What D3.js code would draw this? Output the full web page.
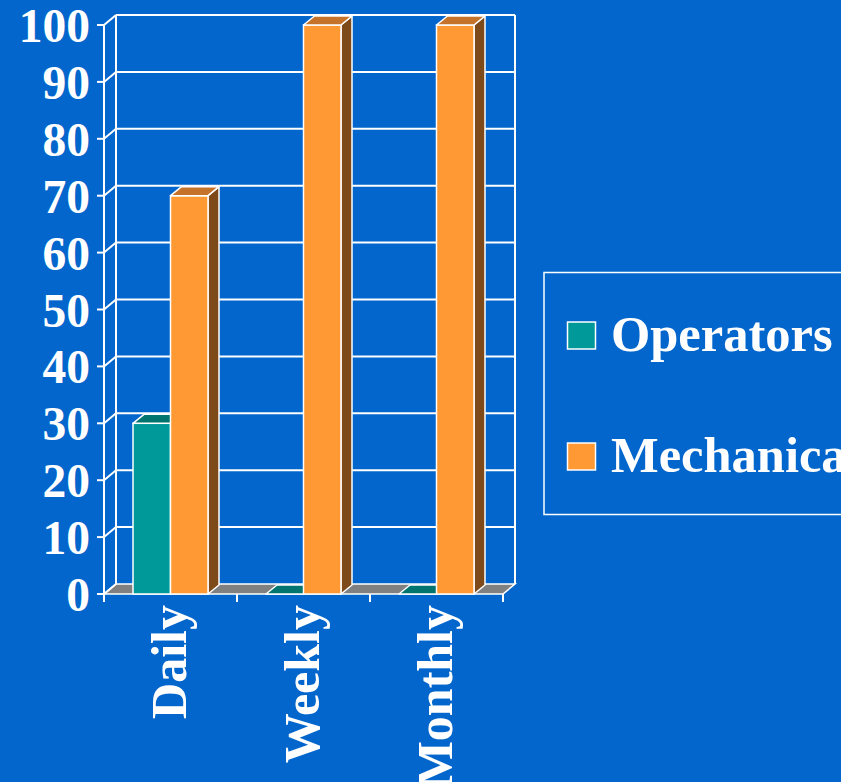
<!DOCTYPE html>
<html>
<head>
<meta charset="utf-8">
<script src="https://cdn.jsdelivr.net/npm/d3@7"></script>
<style>
  html, body { margin: 0; padding: 0; background: #0366CC; overflow: hidden; }
  svg { display: block; }
  text { font-family: "Liberation Serif", "Times New Roman", serif; font-weight: bold; fill: #fff; }
</style>
</head>
<body>
<svg id="chart" width="841" height="782"></svg>
<script>
const categories = ["Daily", "Weekly", "Monthly"];
const series = ["Operators", "Mechanical"];
const operators = [30, 0, 0];
const mechanical = [70, 100, 100];
const yTicks = [0, 10, 20, 30, 40, 50, 60, 70, 80, 90, 100];

const colors = {
  Operators: { front: "#009999", top: "#007570", side: "#004f4f" },
  Mechanical: { front: "#FF9933", top: "#C5732A", side: "#7E4A1A" }
};
const values = { Operators: operators, Mechanical: mechanical };

const svg = d3.select("#chart");
svg.append("rect").attr("width", 841).attr("height", 782).attr("fill", "#0366CC");

// geometry
const DX = 12, DY = -10;      // wall depth offset
const BDX = 11, BDY = -9;     // bar depth offset
const y = d3.scaleLinear().domain([0, 100]).range([594, 25]);
const x = d3.scaleBand().domain(categories).range([104, 503]).padding(0);
const xs = d3.scaleBand().domain(series).range([0, 75]).padding(0);
const x0 = x(categories[0]), x1 = x.range()[1];
const white = "#ffffff";

// floor
svg.append("polygon")
  .attr("points", [[x0, y(0)], [x1, y(0)], [x1 + DX, y(0) + DY], [x0 + DX, y(0) + DY]].join(" "))
  .attr("fill", "#808080").attr("stroke", white).attr("stroke-width", 1.5);

// back wall gridlines
svg.append("g").selectAll("line").data(yTicks.filter(d => d > 0)).join("line")
  .attr("x1", x0 + DX).attr("x2", x1 + DX)
  .attr("y1", d => y(d) + DY).attr("y2", d => y(d) + DY)
  .attr("stroke", white).attr("stroke-width", 2);
// back wall right edge
svg.append("line").attr("x1", x1 + DX).attr("x2", x1 + DX)
  .attr("y1", y(100) + DY).attr("y2", y(0) + DY).attr("stroke", white).attr("stroke-width", 2);
// left wall back edge
svg.append("line").attr("x1", x0 + DX).attr("x2", x0 + DX)
  .attr("y1", y(100) + DY).attr("y2", y(0) + DY).attr("stroke", white).attr("stroke-width", 2);
// left wall diagonals
svg.append("g").selectAll("line").data(yTicks).join("line")
  .attr("x1", x0).attr("x2", x0 + DX)
  .attr("y1", d => y(d)).attr("y2", d => y(d) + DY)
  .attr("stroke", white).attr("stroke-width", 2);
// front axis line
svg.append("line").attr("x1", x0).attr("x2", x0)
  .attr("y1", y(100)).attr("y2", y(0) + 8).attr("stroke", white).attr("stroke-width", 2);
// y ticks
svg.append("g").selectAll("line").data(yTicks).join("line")
  .attr("x1", x0 - 7).attr("x2", x0)
  .attr("y1", d => y(d)).attr("y2", d => y(d))
  .attr("stroke", white).attr("stroke-width", 2);
// y labels
svg.append("g").selectAll("text").data(yTicks).join("text")
  .attr("x", 90).attr("y", d => y(d) + 17)
  .attr("text-anchor", "end").attr("font-size", 47.5)
  .text(d => d);

// x category ticks
const boundaries = categories.map(c => x(c)).concat([x1]);
svg.append("g").selectAll("line").data(boundaries).join("line")
  .attr("x1", d => d).attr("x2", d => d)
  .attr("y1", y(0)).attr("y2", y(0) + 8)
  .attr("stroke", white).attr("stroke-width", 2);

// bars
const offset = (x.bandwidth() - 75) / 2;
const gBars = svg.append("g");
categories.forEach((cat, i) => {
  series.forEach(s => {
    const v = values[s][i];
    const left = x(cat) + offset + xs(s);
    const right = left + xs.bandwidth();
    const top = y(v), bottom = y(0);
    const c = colors[s];
    const g = gBars.append("g");
    if (v > 0) {
      g.append("polygon")
        .attr("points", [[right, top], [right + BDX, top + BDY], [right + BDX, bottom + BDY], [right, bottom]].join(" "))
        .attr("fill", c.side).attr("stroke", white).attr("stroke-width", 1.5).attr("stroke-linejoin", "round");
      g.append("rect").attr("x", left).attr("y", top).attr("width", right - left).attr("height", bottom - top)
        .attr("fill", c.front).attr("stroke", white).attr("stroke-width", 1.5);
    }
    g.append("polygon")
      .attr("points", [[left, top], [left + BDX, top + BDY], [right + BDX, top + BDY], [right, top]].join(" "))
      .attr("fill", c.top).attr("stroke", white).attr("stroke-width", 1.5).attr("stroke-linejoin", "round");
  });
});

// x labels
svg.append("g").selectAll("text").data(categories).join("text")
  .attr("transform", d => `translate(${x(d) + x.bandwidth() / 2 + 15},605) rotate(-90)`)
  .attr("text-anchor", "end").attr("font-size", 50)
  .text(d => d);

// legend
const lg = svg.append("g");
lg.append("rect").attr("x", 544).attr("y", 272.5).attr("width", 320).attr("height", 242)
  .attr("fill", "none").attr("stroke", white).attr("stroke-width", 1.5);
series.forEach((s, i) => {
  const yy = 322 + i * 121;
  lg.append("rect").attr("x", 567.5).attr("y", yy).attr("width", 28).attr("height", 27)
    .attr("fill", colors[s].front).attr("stroke", white).attr("stroke-width", 1.5);
  lg.append("text").attr("x", 611).attr("y", yy + 29).attr("font-size", 50.5).text(s);
});
</script>
</body>
</html>
